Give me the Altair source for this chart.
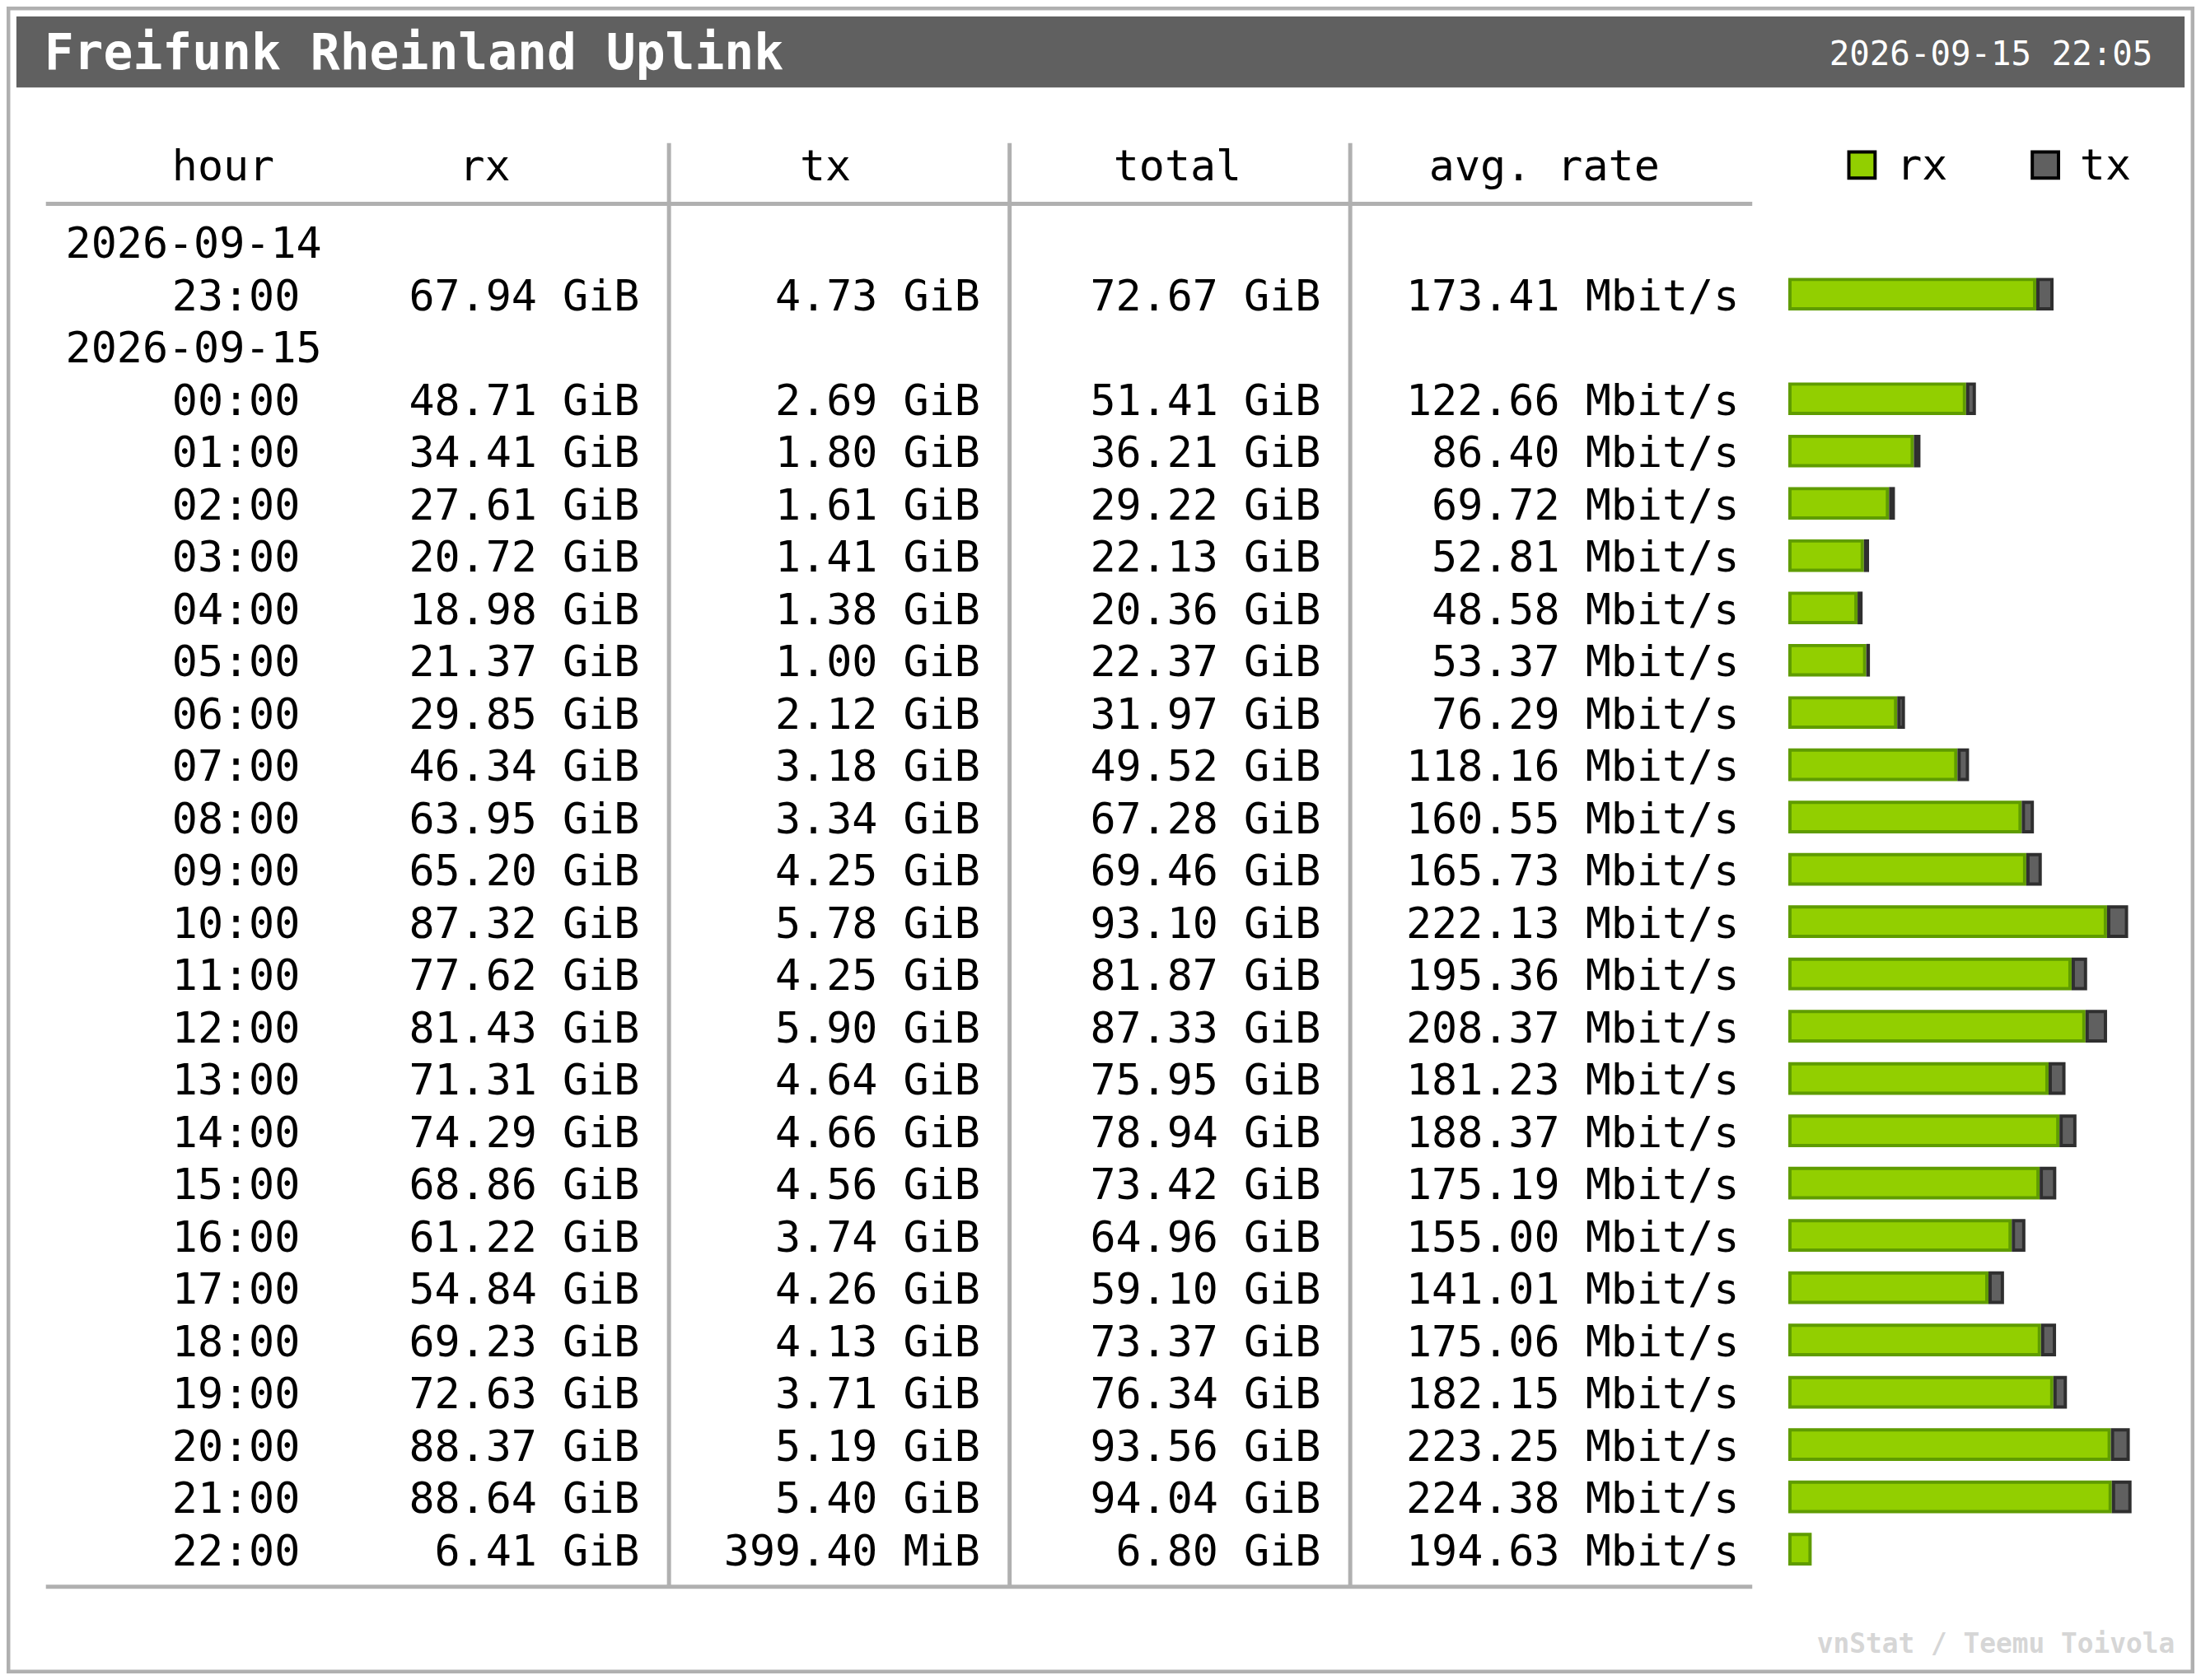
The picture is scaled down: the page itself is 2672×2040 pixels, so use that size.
import altair as alt
import pandas as pd

# ---------------- data ----------------
title_text = "Freifunk Rheinland Uplink"
timestamp_text = "2026-09-15 22:05"
footer_text = "vnStat / Teemu Toivola"
header_labels = ["hour", "rx", "tx", "total", "avg. rate"]
legend_labels = ["rx", "tx"]

day_labels = ["2026-09-14", "2026-09-15"]
hour_day = [0, 1, 1, 1, 1, 1, 1, 1, 1, 1, 1, 1, 1, 1, 1, 1, 1, 1, 1, 1, 1, 1, 1, 1]
hour_labels = ["23:00", "00:00", "01:00", "02:00", "03:00", "04:00", "05:00", "06:00",
               "07:00", "08:00", "09:00", "10:00", "11:00", "12:00", "13:00", "14:00",
               "15:00", "16:00", "17:00", "18:00", "19:00", "20:00", "21:00", "22:00"]
rx_gib = [67.94, 48.71, 34.41, 27.61, 20.72, 18.98, 21.37, 29.85, 46.34, 63.95, 65.20, 87.32,
          77.62, 81.43, 71.31, 74.29, 68.86, 61.22, 54.84, 69.23, 72.63, 88.37, 88.64, 6.41]
tx_amount = [4.73, 2.69, 1.80, 1.61, 1.41, 1.38, 1.00, 2.12, 3.18, 3.34, 4.25, 5.78,
             4.25, 5.90, 4.64, 4.66, 4.56, 3.74, 4.26, 4.13, 3.71, 5.19, 5.40, 399.40]
tx_unit = ["GiB"] * 23 + ["MiB"]
total_gib = [72.67, 51.41, 36.21, 29.22, 22.13, 20.36, 22.37, 31.97, 49.52, 67.28, 69.46, 93.10,
             81.87, 87.33, 75.95, 78.94, 73.42, 64.96, 59.10, 73.37, 76.34, 93.56, 94.04, 6.80]
rate_mbit = [173.41, 122.66, 86.40, 69.72, 52.81, 48.58, 53.37, 76.29, 118.16, 160.55, 165.73, 222.13,
             195.36, 208.37, 181.23, 188.37, 175.19, 155.00, 141.01, 175.06, 182.15, 223.25, 224.38, 194.63]

# ---------------- layout (reference pixels) ----------------
REF_W, REF_H = 2672, 2040
W, H = 2656, 2024
SX, SY = W / REF_W, H / REF_H
ROW0_Y, ROW_PITCH = 288, 64
FONT = "DejaVu Sans Mono"
FS = 52 * SX
COL_X = {"date": 72, "hour": 202, "rx": 773, "tx": 1189, "total": 1605, "rate": 2116}
COL_ALIGN = {"date": "left", "hour": "left", "rx": "right", "tx": "right", "total": "right", "rate": "right"}
HEAD_X = {"hour": 202, "rx": 584, "tx": 1000, "total": 1430, "avg. rate": 1878}
HEAD_ALIGN = {"hour": "left", "rx": "center", "tx": "center", "total": "center", "avg. rate": "center"}
LEG_SQ_X = {"rx": 2248, "tx": 2472}
LEG_TXT_X = {"rx": 2308, "tx": 2532}
BAR_X0, BAR_PX_PER_GIB = 2176, 4.458
BAR_HALF = 20 / ROW_PITCH

GREEN, GREEN_DARK = "#92cf00", "#5f9c00"
GREY, GREY_DARK = "#606060", "#2f2f2f"
LINE = "#b0b0b0"

def X(v):
    return v * SX

def Y(v):
    return v * SY

# ---------------- tables ----------------
cells, bars = [], []
row, prev = 0, None
for i, h in enumerate(hour_labels):
    d = hour_day[i]
    if d != prev:
        cells.append(dict(row=row, col="date", label=day_labels[d]))
        row += 1
        prev = d
    cells.append(dict(row=row, col="hour", label=h))
    cells.append(dict(row=row, col="rx", label=f"{rx_gib[i]:.2f} GiB"))
    cells.append(dict(row=row, col="tx", label=f"{tx_amount[i]:.2f} {tx_unit[i]}"))
    cells.append(dict(row=row, col="total", label=f"{total_gib[i]:.2f} GiB"))
    cells.append(dict(row=row, col="rate", label=f"{rate_mbit[i]:.2f} Mbit/s"))
    tx_g = tx_amount[i] / 1024 if tx_unit[i] == "MiB" else tx_amount[i]
    bars.append(dict(row=row, rx=rx_gib[i], tx=tx_g))
    row += 1

cells = pd.DataFrame(cells)
cells["xpos"] = cells["col"].map(COL_X)
cells["align"] = cells["col"].map(COL_ALIGN)
bars = pd.DataFrame(bars)
heads = pd.DataFrame({"label": header_labels})
heads["xpos"] = heads["label"].map(HEAD_X)
heads["align"] = heads["label"].map(HEAD_ALIGN)
leg = pd.DataFrame({"label": legend_labels})
leg["sx"] = leg["label"].map(LEG_SQ_X)
leg["tx"] = leg["label"].map(LEG_TXT_X)

XPIX = alt.Scale(domain=[0, REF_W], range=[0, W], nice=False, zero=False)
YROW = alt.Scale(domain=[-ROW0_Y / ROW_PITCH, (REF_H - ROW0_Y) / ROW_PITCH], range=[0, H], nice=False, zero=False)
XBAR = alt.Scale(domain=[-BAR_X0 / BAR_PX_PER_GIB, (REF_W - BAR_X0) / BAR_PX_PER_GIB], range=[0, W], nice=False, zero=False)

one = pd.DataFrame({"k": [0]})
layers = []

# outer border
layers.append(alt.Chart(one).mark_rect(fill="white", stroke=LINE, strokeWidth=X(4.5)).encode(
    x=alt.value(X(2.25)), x2=alt.value(W - X(2.25)), y=alt.value(Y(2.25)), y2=alt.value(H - Y(2.25))))
# title bar
layers.append(alt.Chart(one).mark_rect(fill=GREY).encode(
    x=alt.value(X(12)), x2=alt.value(X(2660)), y=alt.value(Y(12)), y2=alt.value(Y(99))))
layers.append(alt.Chart(one).mark_text(align="left", baseline="alphabetic", font=FONT, fontWeight="bold",
                                       fontSize=60 * SX, color="white", text=title_text).encode(
    x=alt.value(X(46)), y=alt.value(Y(77))))
layers.append(alt.Chart(one).mark_text(align="right", baseline="alphabetic", font=FONT,
                                       fontSize=41 * SX, color="white", text=timestamp_text).encode(
    x=alt.value(X(2621)), y=alt.value(Y(72))))

# grid lines
for (x1, x2, y1, y2) in [(48, 2132, 241.5, 241.5), (48, 2132, 1934, 1934),
                         (809, 809, 167, 1934), (1225, 1225, 167, 1934), (1641, 1641, 167, 1934)]:
    enc = dict(x=alt.value(X(x1)), y=alt.value(Y(y1)))
    if x1 != x2:
        enc["x2"] = alt.value(X(x2))
    else:
        enc["y2"] = alt.value(Y(y2))
    layers.append(alt.Chart(one).mark_rule(color=LINE, strokeWidth=X(5)).encode(**enc))

# headers
for al in ["left", "center"]:
    layers.append(alt.Chart(heads).transform_filter(alt.datum.align == al).mark_text(
        align=al, baseline="alphabetic", font=FONT, fontSize=FS, color="black").encode(
        x=alt.X("xpos:Q", scale=XPIX, axis=None), y=alt.value(Y(213)), text="label:N"))

# legend
layers.append(alt.Chart(leg).transform_calculate(sx2="datum.sx + 36").mark_rect(
    stroke="black", strokeWidth=X(4), xOffset=X(2), x2Offset=-X(2)).encode(
    x=alt.X("sx:Q", scale=XPIX, axis=None), x2="sx2:Q",
    y=alt.value(Y(178)), y2=alt.value(Y(210)),
    fill=alt.Fill("label:N", scale=alt.Scale(domain=legend_labels, range=[GREEN, GREY]), legend=None)))
layers.append(alt.Chart(leg).mark_text(align="left", baseline="alphabetic", font=FONT, fontSize=FS,
                                       color="black").encode(
    x=alt.X("tx:Q", scale=XPIX, axis=None), y=alt.value(Y(212)), text="label:N"))

# table cells
for al in ["left", "right"]:
    layers.append(alt.Chart(cells).transform_filter(alt.datum.align == al).mark_text(
        align=al, baseline="alphabetic", font=FONT, fontSize=FS, color="black", dy=Y(19.5)).encode(
        x=alt.X("xpos:Q", scale=XPIX, axis=None),
        y=alt.Y("row:Q", scale=YROW, axis=None), text="label:N"))

# bars
bar_base = alt.Chart(bars).transform_calculate(
    zero="0", rxtx="datum.rx + datum.tx",
    y0=f"datum.row - {BAR_HALF}", y1=f"datum.row + {BAR_HALF}")
layers.append(bar_base.mark_rect(fill=GREEN, stroke=GREEN_DARK, strokeWidth=X(4),
                                 xOffset=X(2), x2Offset=-X(2), yOffset=Y(2), y2Offset=-Y(2)).encode(
    x=alt.X("zero:Q", scale=XBAR, axis=None), x2="rx:Q",
    y=alt.Y("y0:Q", scale=YROW, axis=None), y2="y1:Q"))
layers.append(bar_base.transform_filter(alt.datum.tx >= 0.5).mark_rect(
    fill=GREY, stroke=GREY_DARK, strokeWidth=X(4),
    xOffset=X(2), x2Offset=-X(2), yOffset=Y(2), y2Offset=-Y(2)).encode(
    x=alt.X("rx:Q", scale=XBAR, axis=None), x2="rxtx:Q",
    y=alt.Y("y0:Q", scale=YROW, axis=None), y2="y1:Q"))

# footer
layers.append(alt.Chart(one).mark_text(align="right", baseline="alphabetic", font=FONT, fontWeight="bold",
                                       fontSize=33 * SX, color="#d6d6d6", text=footer_text).encode(
    x=alt.value(X(2648)), y=alt.value(Y(2015))))

chart = alt.layer(*layers).resolve_scale(x="independent", y="shared").properties(
    width=W, height=H, padding=0, background="white",
    autosize=alt.AutoSizeParams(type="none")
).configure_view(strokeWidth=0)

chart.save("out.html", embed_options={"renderer": "svg", "actions": False})
